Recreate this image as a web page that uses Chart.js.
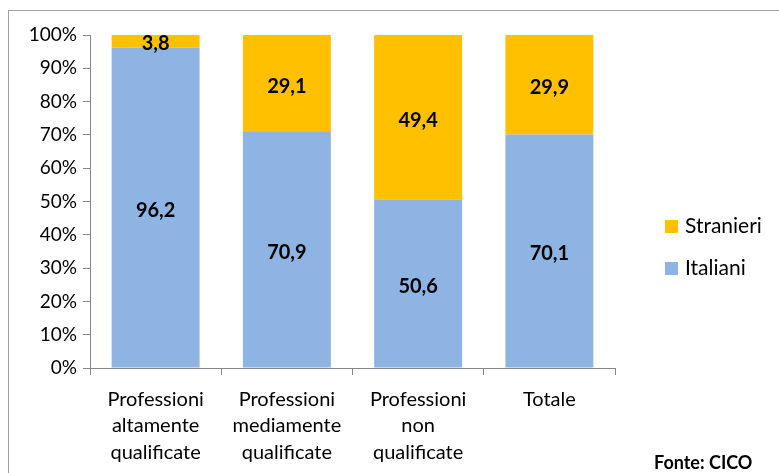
<!DOCTYPE html>
<html>
<head>
<meta charset="utf-8">
<script src="https://cdn.jsdelivr.net/npm/chart.js@4.4.1/dist/chart.umd.min.js"></script>
<style>
  body { margin: 0; background: #fff; font-family: Lato, "Open Sans", sans-serif; }
  #wrap { position: relative; width: 779px; height: 473px; overflow: hidden; }
  #frame { position: absolute; left: 8px; top: 10px; width: 800px; height: 500px; border: 1px solid #a0a0a0; }
  #c { position: absolute; left: 0; top: 0; }
  .leg { position: absolute; left: 665px; font-size: 21px; line-height: 24px; color: #000; }
  .leg span { display: inline-block; width: 13px; height: 13px; margin-right: 7px; vertical-align: 0px; }
  #fonte { position: absolute; left: 654px; top: 451px; font-weight: bold; font-size: 18px; }
</style>
</head>
<body>
<div id="wrap">
  <div id="frame"></div>
  <canvas id="c" width="779" height="473"></canvas>
  <div id="legend"></div>
  <div id="fonte">Fonte: CICO</div>
</div>
<script>
var categories = [
  ["Professioni", "altamente", "qualificate"],
  ["Professioni", "mediamente", "qualificate"],
  ["Professioni", "non", "qualificate"],
  "Totale"
];
var italiani = [96.2, 70.9, 50.6, 70.1];
var stranieri = [3.8, 29.1, 49.4, 29.9];
var yTicks = [0, 10, 20, 30, 40, 50, 60, 70, 80, 90, 100];

var axisColor = "#868686";

// value labels centred in each segment
var valueLabels = {
  id: "valueLabels",
  afterDatasetsDraw: function (chart) {
    var ctx = chart.ctx;
    ctx.save();
    ctx.font = "bold 20px Lato, sans-serif";
    ctx.fillStyle = "#000";
    ctx.textAlign = "center";
    ctx.textBaseline = "middle";
    chart.data.datasets.forEach(function (ds, i) {
      chart.getDatasetMeta(i).data.forEach(function (bar, j) {
        var p = bar.getProps(["x", "y", "base"], true);
        var y = (p.y + p.base) / 2 + 3;
        if (ds.data[j] < 5) y = p.y + 9;
        ctx.fillText(ds.data[j].toFixed(1).replace(".", ","), p.x, y);
      });
    });
    ctx.restore();
  }
};

var chart = new Chart(document.getElementById("c"), {
  type: "bar",
  data: {
    labels: categories,
    datasets: [
      { label: "Italiani", data: italiani, backgroundColor: "#8EB4E3", barPercentage: 0.67, categoryPercentage: 1 },
      { label: "Stranieri", data: stranieri, backgroundColor: "#FFC000", barPercentage: 0.67, categoryPercentage: 1 }
    ]
  },
  options: {
    responsive: false,
    animation: false,
    layout: { padding: { left: 20, top: 35, right: 164, bottom: 0 } },
    plugins: { legend: { display: false }, tooltip: { enabled: false } },
    scales: {
      x: {
        stacked: true,
        afterFit: function (s) { s.height = 105; },
        grid: { drawOnChartArea: false, color: axisColor, tickLength: 7 },
        border: { color: axisColor },
        ticks: { color: "#000", font: { size: 20, family: "Lato", lineHeight: 1.33 }, padding: 11 }
      },
      y: {
        stacked: true,
        min: 0,
        max: 100,
        afterFit: function (s) { s.width = 70; },
        afterBuildTicks: function (s) { s.ticks = yTicks.map(function (v) { return { value: v }; }); },
        grid: { drawOnChartArea: false, color: axisColor, tickLength: 7 },
        border: { color: axisColor },
        ticks: {
          color: "#000",
          font: { size: 19, family: "Lato" },
          padding: 6,
          callback: function (v) { return v + "%"; }
        }
      }
    }
  },
  plugins: [valueLabels]
});

// legend (reverse order, like the stack)
var legend = document.getElementById("legend");
var tops = [213, 255];
chart.data.datasets.slice().reverse().forEach(function (ds, i) {
  var d = document.createElement("div");
  d.className = "leg";
  d.style.top = tops[i] + "px";
  d.innerHTML = '<span style="background:' + ds.backgroundColor + '"></span>' + ds.label;
  legend.appendChild(d);
});
</script>
</body>
</html>
